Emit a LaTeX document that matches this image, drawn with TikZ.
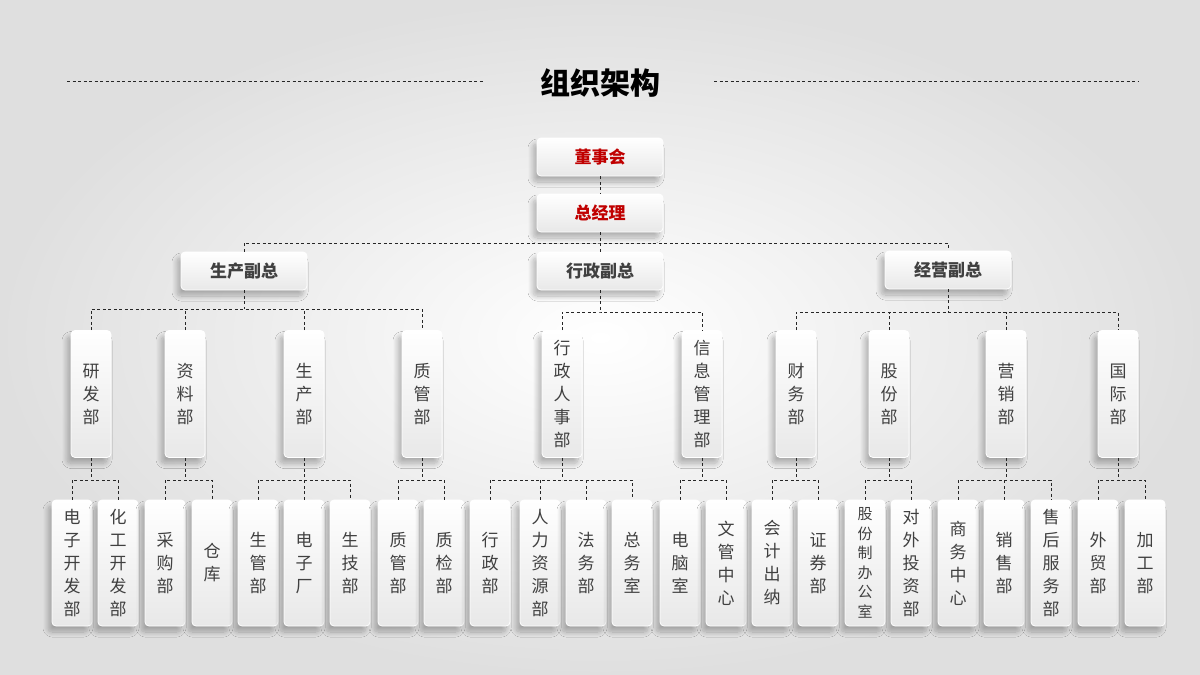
\documentclass[tikz,border=0pt]{standalone}
\usepackage{fontspec}
\setmainfont{Noto Sans CJK SC}
\usetikzlibrary{shadows.blur}
\definecolor{txt}{HTML}{404040}
\definecolor{redt}{HTML}{C00000}
\tikzset{
 box/.style={draw=white, line width=0.8pt, rounded corners=4pt, top color=white, bottom color=gray!18,
   blur shadow={shadow xshift=-4pt, shadow yshift=-6pt, shadow blur steps=16, shadow blur radius=5pt, shadow opacity=28},
   text=txt, inner sep=0pt, align=center},
 hbox/.style={box, minimum width=126pt, minimum height=38pt, font=\bfseries\fontsize{17}{17}\selectfont},
 vbox/.style={box, minimum width=40pt, minimum height=127pt, font=\fontsize{17}{23}\selectfont},
 lbox/.style={box, minimum width=40pt, minimum height=126pt, font=\fontsize{17}{23}\selectfont},
 dl/.style={draw=black!85, line width=0.8pt, dash pattern=on 3pt off 2.5pt},
}
\begin{document}
\begin{tikzpicture}[x=1pt,y=-1pt]
\shade[inner color=white, outer color=gray!25] (0,0) rectangle (1200,675);
\useasboundingbox (0,0) rectangle (1200,675);
\node[font=\bfseries\fontsize{30}{30}\selectfont, text=black] (title) at (600,83) {组织架构};
\coordinate (tl1) at (67,81); \coordinate (tl2) at (483,81);
\coordinate (tr1) at (714,81); \coordinate (tr2) at (1138,81);
\draw[dl] (tl1) -- (tl2); \draw[dl] (tr1) -- (tr2);

\node[hbox, text=redt] (dsh) at (600,157) {董事会};
\node[hbox, text=redt] (zjl) at (600,213) {总经理};
\node[hbox] (sc) at (244,271) {生产副总};
\node[hbox] (xz) at (600,271) {行政副总};
\node[hbox] (jy) at (948,270) {经营副总};

\coordinate (bus0) at (600,243);
\draw[dl] (dsh) -- (zjl);
\draw[dl] (zjl) -- (xz);
\draw[dl] (sc.north) |- (bus0) -| (jy.north);

% level 2
\foreach \n/\x/\t in {yf/91/研\\发\\部, zl/185/资\\料\\部, sp/304/生\\产\\部, zg/422/质\\管\\部,
  rs/562/行\\政\\人\\事\\部, xx/702/信\\息\\管\\理\\部,
  cw/796/财\\务\\部, gf/889/股\\份\\部, yx/1006/营\\销\\部, gj/1118/国\\际\\部}
  \node[vbox] (\n) at (\x,394) {\t};

% level 3
\foreach \n/\x/\t in {a1/72/电\\子\\开\\发\\部, a2/118/化\\工\\开\\发\\部,
  b1/165/采\\购\\部, b2/212/仓\\库,
  c1/258/生\\管\\部, c2/304/电\\子\\厂, c3/350/生\\技\\部,
  d1/398/质\\管\\部, d2/444/质\\检\\部,
  e1/490/行\\政\\部, e2/540/人\\力\\资\\源\\部, e3/586/法\\务\\部, e4/632/总\\务\\室,
  f1/680/电\\脑\\室, f2/726/文\\管\\中\\心,
  g1/772/会\\计\\出\\纳, g2/818/证\\券\\部,
  h2/911/对\\外\\投\\资\\部,
  i1/958/商\\务\\中\\心, i2/1004/销\\售\\部, i3/1051/售\\后\\服\\务\\部,
  j1/1098/外\\贸\\部, j2/1145/加\\工\\部}
  \node[lbox] (\n) at (\x,563) {\t};
\node[lbox, font=\fontsize{15}{19.5}\selectfont] (h1) at (865,563) {股\\份\\制\\办\\公\\室};

% level 1 -> 2
\coordinate (ps) at (244,309); \coordinate (px) at (600,312); \coordinate (pj) at (948,312);
\draw[dl] (sc) -- (ps);
\draw[dl] (yf.north) |- (ps) -| (zg.north);
\draw[dl] (zl.north) -- (zl.north |- ps); \draw[dl] (sp.north) -- (sp.north |- ps);
\draw[dl] (xz) -- (px);
\draw[dl] (rs.north) |- (px) -| (xx.north);
\draw[dl] (jy) -- (pj);
\draw[dl] (cw.north) |- (pj) -| (gj.north);
\draw[dl] (gf.north) -- (gf.north |- pj); \draw[dl] (yx.north) -- (yx.north |- pj);

% level 2 -> 3
\foreach \p/\l/\r in {yf/a1/a2, zl/b1/b2, sp/c1/c3, zg/d1/d2, rs/e1/e4, xx/f1/f2, cw/g1/g2, gf/h1/h2, yx/i1/i3, gj/j1/j2}{
  \coordinate (m\p) at ([yshift=-22pt]\p.south);
  \draw[dl] (\p.south) -- (m\p);
  \draw[dl] (\l.north) |- (m\p) -| (\r.north);
}
\foreach \p/\c in {sp/c2, rs/e2, rs/e3, yx/i2}
  \draw[dl] (\c.north) -- (\c.north |- m\p);
\end{tikzpicture}
\end{document}
